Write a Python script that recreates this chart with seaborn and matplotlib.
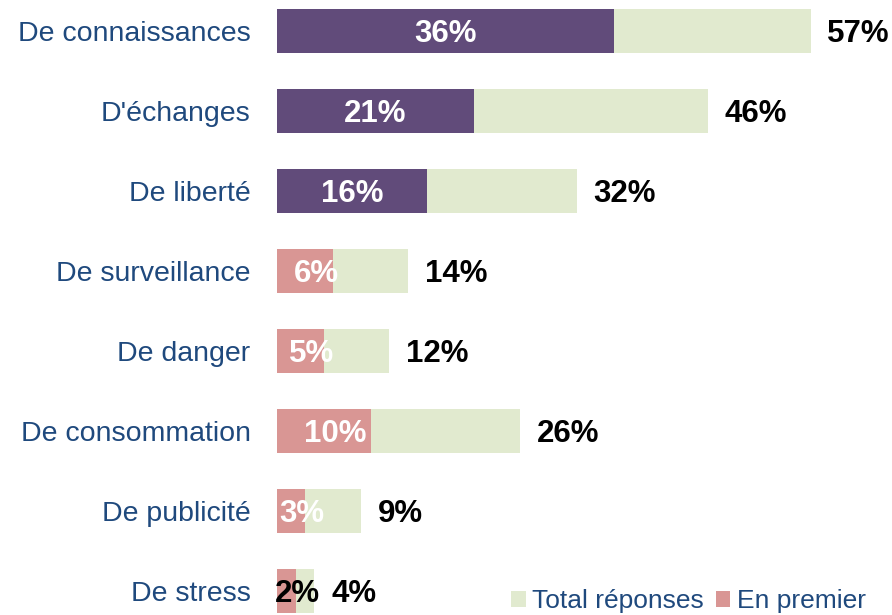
import matplotlib
matplotlib.use("Agg")
import matplotlib.pyplot as plt
import seaborn as sns
import pandas as pd
from matplotlib.patches import Patch

categories = ["De connaissances", "D'échanges", "De liberté", "De surveillance",
              "De danger", "De consommation", "De publicité", "De stress"]
total = [57, 46, 32, 14, 12, 26, 9, 4]
first = [36, 21, 16, 6, 5, 10, 3, 2]

GREEN = "#E1EACF"
PURPLE = "#614B7A"
PINK = "#D99694"
BLUE = "#1F497D"
first_colors = [PURPLE, PURPLE, PURPLE, PINK, PINK, PINK, PINK, PINK]
first_label_colors = ["white"] * 7 + ["black"]

sns.set_theme(style="white")
plt.rcParams["font.family"] = ["Liberation Sans", "DejaVu Sans"]

df = pd.DataFrame({"cat": categories, "total": total, "first": first})

fig = plt.figure(figsize=(8.92, 6.15), dpi=100)
ax = fig.add_axes([277 / 892, 0, 1 - 277 / 892, 1])

sns.barplot(data=df, x="total", y="cat", color=GREEN, width=0.55,
            saturation=1, linewidth=0, ax=ax, orient="h")
sns.barplot(data=df, x="first", y="cat", hue="cat", palette=first_colors,
            width=0.55, saturation=1, linewidth=0, legend=False, ax=ax,
            orient="h")

ax.set_xlim(0, 615 / 9.36)
ax.set_ylim((615 - 31) / 80, -31 / 80)
ax.set_xlabel("")
ax.set_ylabel("")
ax.set_xticks([])
for s in ax.spines.values():
    s.set_visible(False)
ax.tick_params(axis="y", length=0, pad=19, labelsize=20.5, labelcolor=BLUE)

VFS = 22.5
dy = VFS * (100 / 72) * 0.716 / 2 / 80
for i, (t, f) in enumerate(zip(total, first)):
    ax.text(t + 1.8, i + dy, f"{t}%", ha="left", va="baseline", fontsize=VFS,
            fontweight="bold", color="black")
    xpos = f / 2 if first_colors[i] == PURPLE else f / 2 + 1.2
    ax.text(xpos, i + dy, f"{f}%", ha="center", va="baseline", fontsize=VFS,
            fontweight="bold", color=first_label_colors[i])

handles = [Patch(facecolor=GREEN, edgecolor="none", label="Total réponses"),
           Patch(facecolor=PINK, edgecolor="none", label="En premier")]
leg = fig.legend(handles=handles, loc="center left",
                 bbox_to_anchor=(511 / 892, 1 - 601 / 615), ncol=2,
                 frameon=False, fontsize=19, handlelength=0.55,
                 handleheight=0.55, handletextpad=0.25, columnspacing=0.45,
                 borderpad=0, borderaxespad=0)
for txt in leg.get_texts():
    txt.set_color(BLUE)

fig.savefig("out.png", dpi=100)
